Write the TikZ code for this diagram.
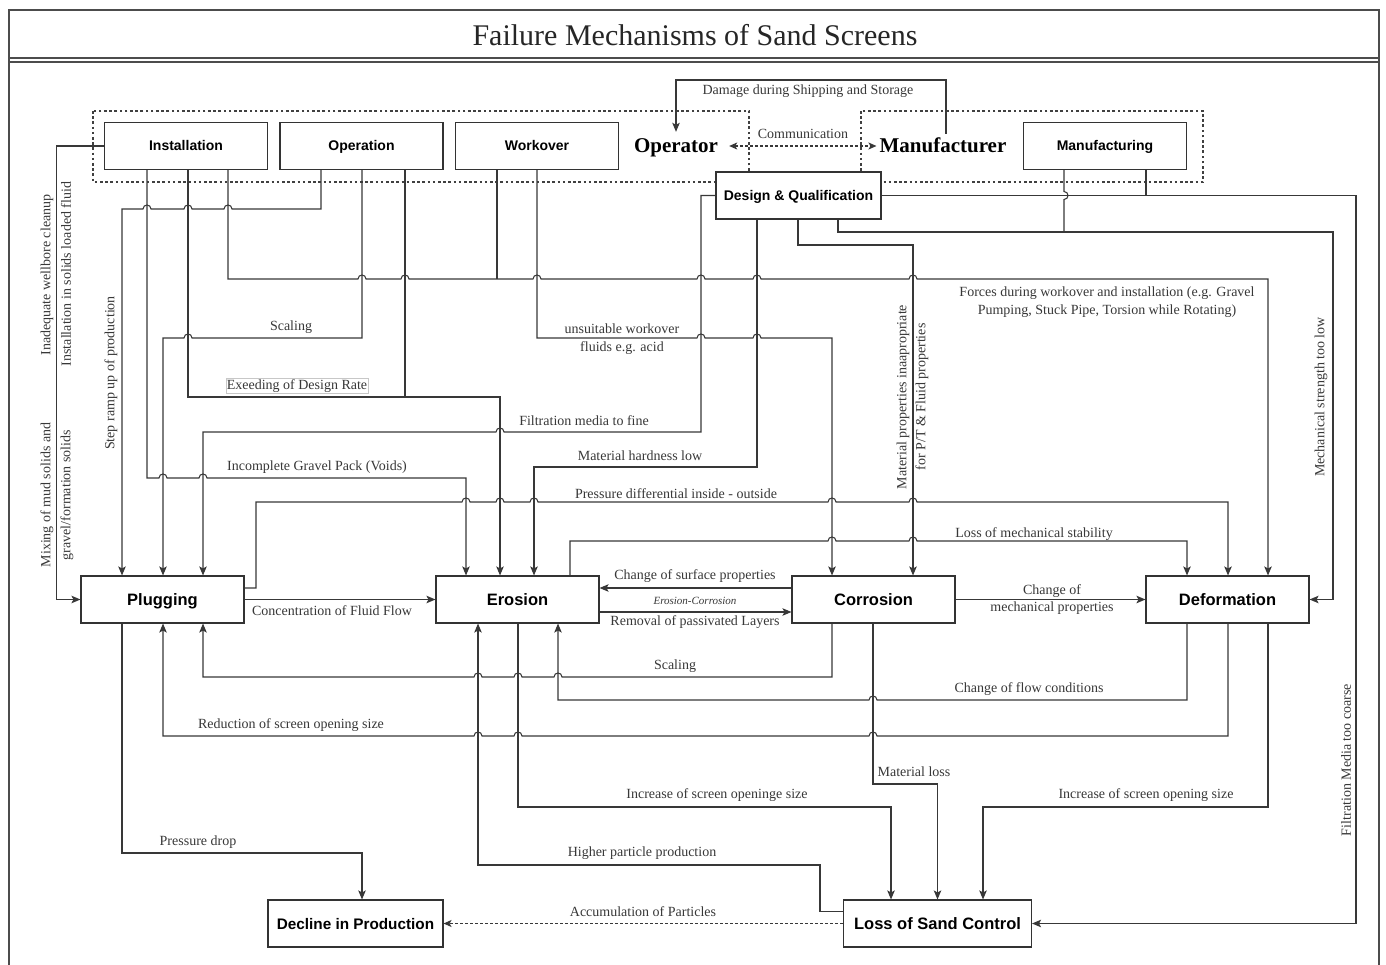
\documentclass[tikz,border=0pt]{standalone}
\usepackage{fontspec}
\setmainfont{Liberation Serif}
\newfontfamily\arialf{Liberation Sans}
\usetikzlibrary{arrows.meta}
% line hops (jumps): moving right, left, down
\newcommand\hr[2]{-- ({#1-4},#2) .. controls ({#1-4},{#2-5.3}) and ({#1+4},{#2-5.3}) .. ({#1+4},#2)}
\newcommand\hl[2]{-- ({#1+4},#2) .. controls ({#1+4},{#2-5.3}) and ({#1-4},{#2-5.3}) .. ({#1-4},#2)}
\newcommand\hd[2]{-- (#1,{#2-4}) .. controls ({#1+5.3},{#2-4}) and ({#1+5.3},{#2+4}) .. (#1,{#2+4})}
\begin{document}
\begin{tikzpicture}[x=1pt,y=-1pt,
  ln/.style={draw=black!78, line width=1.05pt},
  arr/.style={ln, -{Stealth[length=9pt,width=7.5pt,inset=2pt]}},
  box/.style={draw=black!80, line width=1.1pt, fill=white, minimum width=163pt, minimum height=47pt, inner sep=0pt, text height=13pt, text depth=3pt, font=\arialf\bfseries\fontsize{14}{16}\selectfont},
  bigbox/.style={box, text height=15.3pt, text depth=3.5pt, font=\arialf\bfseries\fontsize{16.5}{18}\selectfont},
  lab/.style={font=\fontsize{14}{17.5}\selectfont, text=black!78, inner sep=1pt, align=center},
  vlab/.style={lab, rotate=90},
  grp/.style={draw=black!75, line width=1.1pt, dash pattern=on 2.6pt off 2.6pt},
  dsh/.style={ln, dash pattern=on 3pt off 2pt},
  actor/.style={font=\bfseries\fontsize{21}{24}\selectfont, text height=18.5pt, text depth=4.5pt},
]
\useasboundingbox (0,0) rectangle (1386,965);
\fill[white] (0,0) rectangle (1386,965);
% frame and title
\draw[draw=black!70, line width=1.3pt] (9,10) rectangle (1379,970);
\draw[draw=black!70, line width=1.3pt] (9,58) -- (1379,58) (9,62) -- (1379,62);
\node[font=\fontsize{30}{34}\selectfont, text=black!85] (title) at (695,35) {Failure Mechanisms of Sand Screens};

% groups
\draw[grp] (93,111) rectangle (749,182);
\draw[grp] (861,111) rectangle (1203,182);

% nodes
\node[box] (inst) at (186,146) {Installation};
\node[box] (oprn) at (361.5,146) {Operation};
\node[box] (work) at (537,146) {Workover};
\node[box] (manf) at (1105,146) {Manufacturing};
\node[box, minimum width=165pt] (dq) at (798.5,195.5) {Design \& Qualification};
\node[actor, inner xsep=11pt, inner ysep=2.5pt] (oper) at (676,146) {Operator};
\node[actor, inner xsep=3pt, inner ysep=0.5pt] (manu) at (943,146) {Manufacturer};
\node[bigbox] (plug) at (162.5,599.5) {Plugging};
\node[bigbox] (ero) at (517.5,599.5) {Erosion};
\node[bigbox] (corr) at (873.5,599.5) {Corrosion};
\node[bigbox] (def) at (1227.5,599.5) {Deformation};
\node[bigbox, minimum width=175pt, font=\arialf\bfseries\fontsize{15.3}{18}\selectfont] (dip) at (355.5,923.5) {Decline in Production};
\node[bigbox, minimum width=188pt] (lsc) at (937.5,923.5) {Loss of Sand Control};

% top connectors
\draw[arr] (manu.north -| 946,0) -- (946,80) -- (676,80) -- (oper.north);
\node[lab] (l1) at (808,91) {Damage during Shipping and Storage};
\draw[dsh, {Stealth[length=8pt,width=7pt,inset=2pt]}-{Stealth[length=8pt,width=7pt,inset=2pt]}] (oper.east) -- (manu.west);
\node[lab] (l2) at (803,134) {Communication};

% Installation -> Plugging (west side)
\draw[arr] (inst.west) -- ++(-47.5,0) |- (plug.west);
\node[vlab] (l3) at (47,275) {Inadequate wellbore cleanup};
\node[vlab] (l4) at (66,274) {Installation in solids loaded fluid};
\node[vlab] (l5) at (47,495) {Mixing of mud solids and};
\node[vlab] (l6) at (67,495) {gravel/formation solids};

% Step ramp up of production
\draw[arr] (oprn.south -| 321,0) -- (321,209) \hl{228}{209} \hl{188}{209} \hl{147}{209} -- (122,209) -- (plug.north -| 122,0);
\node[vlab] (l7) at (111,373) {Step ramp up of production};

% Forces during workover and installation
\draw[arr] (inst.south -| 228,0) -- (228,279) \hr{362}{279} \hr{405}{279} \hr{537}{279} \hr{701}{279} \hr{757}{279} \hr{913}{279} -- (1268,279) -- (def.north -| 1268,0);
\draw[ln] (work.south -| 497,0) -- (497,279);
\node[lab] (l8) at (1107,302) {Forces during workover and installation (e.g. Gravel\\Pumping, Stuck Pipe, Torsion while Rotating)};

% Scaling (operation -> plugging)
\draw[arr] (oprn.south -| 362,0) -- (362,338) \hl{188}{338} -- (163,338) -- (plug.north -| 163,0);
\node[lab] (l9) at (291,327) {Scaling};

% Exceeding of design rate
\draw[arr] (inst.south -| 188,0) -- (188,397) -- (500,397) -- (ero.north -| 500,0);
\draw[ln] (oprn.south -| 405,0) -- (405,397);
\node[lab, draw=black!22, line width=0.5pt, fill=white] (l10) at (297,386) {Exeeding of Design Rate};

% Filtration media to fine
\draw[arr] (dq.west) -- (dq.west -| 701,0) -- (701,432) \hl{500}{432} -- (203,432) -- (plug.north -| 203,0);
\node[lab] (l11) at (584,421) {Filtration media to fine};

% Incomplete gravel pack
\draw[arr] (inst.south -| 147,0) -- (147,478) \hr{163}{478} \hr{203}{478} -- (466,478) -- (ero.north -| 466,0);
\node[lab] (l12) at (317,467) {Incomplete Gravel Pack (Voids)};

% Material hardness low
\draw[arr] (dq.south -| 757,0) -- (757,467) -- (534,467) -- (ero.north -| 534,0);
\node[lab] (l13) at (640,456) {Material hardness low};

% unsuitable workover fluids
\draw[arr] (work.south -| 537,0) -- (537,338) \hr{701}{338} \hr{757}{338} -- (832,338) -- (corr.north -| 832,0);
\node[lab] (l14) at (622,339) {unsuitable workover\\fluids e.g. acid};

% Material properties
\draw[arr] (dq.south -| 798,0) -- (798,245) -- (913,245) -- (corr.north -| 913,0);
\node[vlab] (l15) at (903,397) {Material properties inaapropriate};
\node[vlab] (l16) at (922,397) {for P/T \& Fluid properties};

% Mechanical strength too low
\draw[arr] (dq.south -| 838,0) -- (838,232) -- (1333,232) |- (def.east);
\draw[ln] (manf.south -| 1064,0) \hd{1064}{195.5} -- (1064,232);
\node[vlab] (l17) at (1321,397) {Mechanical strength too low};

% Filtration media too coarse
\draw[arr] (dq.east) -- (dq.east -| 1356,0) |- (lsc.east);
\draw[ln] (manf.south -| 1146,0) -- (1146,195.5);
\node[vlab] (l18) at (1346,760) {Filtration Media too coarse};

% Pressure differential
\draw[arr] ([yshift=11.5pt]plug.east) -- (256,588) -- (256,502) \hr{466}{502} \hr{500}{502} \hr{534}{502} \hr{832}{502} \hr{913}{502} -- (1228,502) -- (def.north -| 1228,0);
\node[lab] (l19) at (676,494) {Pressure differential inside - outside};

% Loss of mechanical stability
\draw[arr] (ero.north -| 570,0) -- (570,541) \hr{832}{541} \hr{913}{541} -- (1187,541) -- (def.north -| 1187,0);
\node[lab] (l20) at (1034,534) {Loss of mechanical stability};

% horizontal links between main nodes
\draw[arr] (plug.east) -- (ero.west);
\node[lab] (l21) at (332,611) {Concentration of Fluid Flow};
\draw[arr] ([yshift=11.5pt]corr.west) -- ([yshift=11.5pt]ero.east);
\node[lab] (l22) at (695,576) {Change of surface properties};
\draw[arr] ([yshift=-12.5pt]ero.east) -- ([yshift=-12.5pt]corr.west);
\node[lab] (l23) at (695,622) {Removal of passivated Layers};
\node[font=\itshape\fontsize{11}{13}\selectfont, text=black!78, inner sep=1pt] (l24) at (695,601) {Erosion-Corrosion};
\draw[arr] (corr.east) -- (def.west);
\node[lab, font=\fontsize{14}{17}\selectfont] (l25) at (1052,600) {Change of\\mechanical properties};

% Scaling (corrosion -> plugging)
\draw[arr] (corr.south -| 832,0) -- (832,677) \hl{558}{677} \hl{518}{677} \hl{478}{677} -- (203,677) -- (plug.south -| 203,0);
\node[lab] (l26) at (675,666) {Scaling};

% Change of flow conditions
\draw[arr] (def.south -| 1187,0) -- (1187,700) \hl{873}{700} -- (558,700) -- (ero.south -| 558,0);
\node[lab] (l27) at (1029,689) {Change of flow conditions};

% Reduction of screen opening size
\draw[arr] (def.south -| 1228,0) -- (1228,736) \hl{873}{736} \hl{518}{736} \hl{478}{736} -- (163,736) -- (plug.south -| 163,0);
\node[lab] (l28) at (291,725) {Reduction of screen opening size};

% Increase of screen opening size (deformation)
\draw[arr] (def.south -| 1268,0) -- (1268,807) -- (983,807) -- (lsc.north -| 983,0);
\node[lab] (l29) at (1146,795) {Increase of screen opening size};

% Material loss
\draw[arr] (corr.south -| 873,0) -- (873,784) -- (937.5,784) -- (lsc.north);
\node[lab] (l30) at (914,772) {Material loss};

% Increase of screen openinge size (erosion)
\draw[arr] (ero.south -| 518,0) -- (518,807) -- (891,807) -- (lsc.north -| 891,0);
\node[lab] (l31) at (717,795) {Increase of screen openinge size};

% Higher particle production
\draw[arr] ([yshift=12pt]lsc.west) -- (820,911.5) -- (820,865) -- (478,865) -- (ero.south -| 478,0);
\node[lab] (l32) at (642,853) {Higher particle production};

% Pressure drop
\draw[arr] (plug.south -| 122,0) -- (122,853) -- (362,853) -- (dip.north -| 362,0);
\node[lab] (l33) at (198,842) {Pressure drop};

% Accumulation of particles
\draw[dsh, -{Stealth[length=8pt,width=7pt,inset=2pt]}] (lsc.west) -- (dip.east);
\node[lab] (l34) at (643,912) {Accumulation of Particles};
\end{tikzpicture}
\end{document}
